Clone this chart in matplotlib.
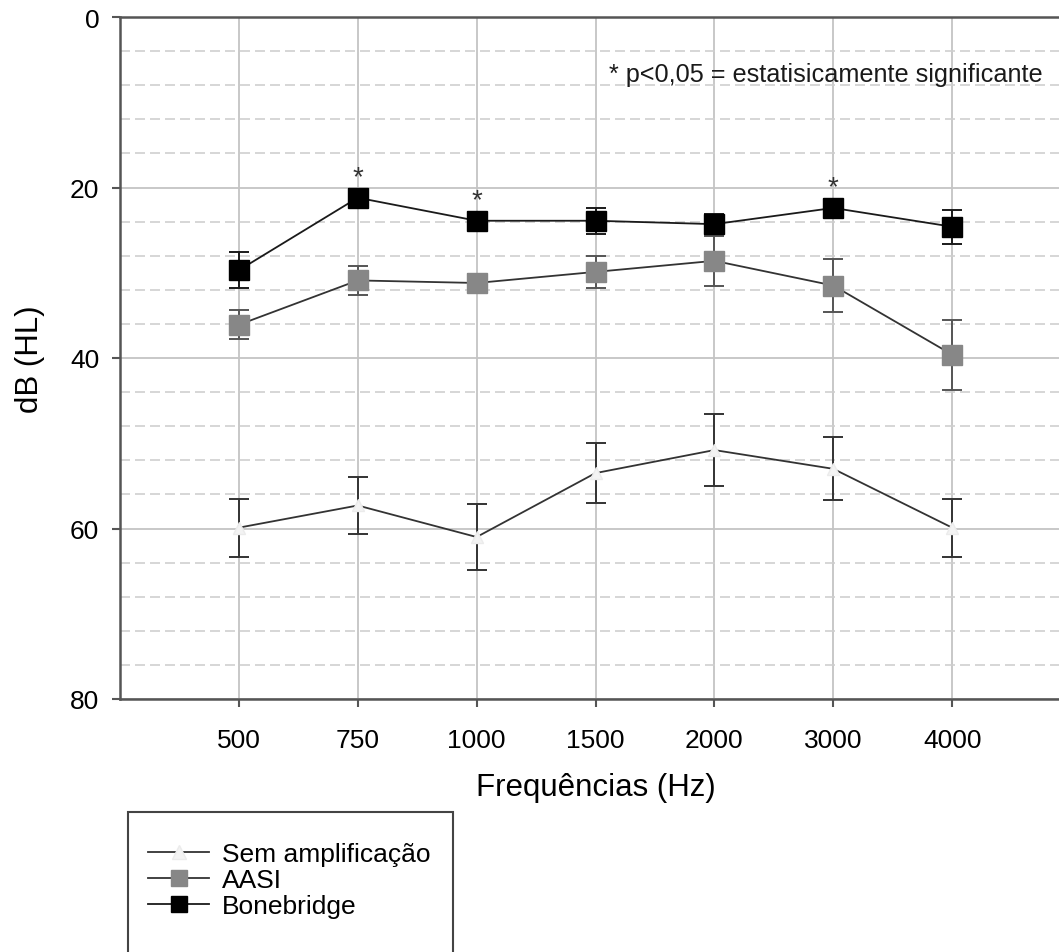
import matplotlib
matplotlib.use("Agg")
import matplotlib.pyplot as plt
from matplotlib.patches import Rectangle
from matplotlib.lines import Line2D
import numpy as np

frequencias = ["500", "750", "1000", "1500", "2000", "3000", "4000"]

sem_amp = [59.9, 57.3, 61.0, 53.5, 50.8, 53.0, 59.9]
sem_amp_err = [3.4, 3.3, 3.9, 3.5, 4.2, 3.7, 3.4]

aasi = [36.1, 30.9, 31.2, 29.9, 28.6, 31.5, 39.6]
aasi_err = [1.7, 1.7, 1.0, 1.9, 2.9, 3.1, 4.1]

bonebridge = [29.7, 21.2, 23.9, 23.9, 24.3, 22.4, 24.6]
bonebridge_err = [2.1, 1.0, 1.0, 1.5, 1.2, 1.0, 2.0]

significativo = ["750", "1000", "3000"]

plt.rcParams['font.family'] = ['Liberation Sans', 'DejaVu Sans']

fig = plt.figure(figsize=(10.59, 9.53), dpi=100)
ax = fig.add_axes([120/1059, 1 - 700/953, (1071-120)/1059, (700-18)/953])

x = np.arange(len(frequencias))

# grid
ax.set_ylim(80, 0)
ax.set_xlim(-1, 7)
ax.set_yticks([0, 20, 40, 60, 80])
ax.set_yticks(np.arange(0, 81, 4), minor=True)
ax.set_xticks(x)
ax.set_xticklabels(frequencias)
ax.grid(True, which='major', axis='y', color='#c4c4c4', lw=1.3, zorder=0)
ax.grid(True, which='minor', axis='y', color='#cfcfcf', lw=1.2, ls=(0, (6, 3)), zorder=0)
ax.grid(True, which='major', axis='x', color='#c4c4c4', lw=1.3, zorder=0)
ax.set_axisbelow(True)

ax.tick_params(axis='y', which='minor', length=0)
ax.tick_params(axis='y', which='major', direction='out', length=6, width=1.5,
               color='#555555', labelsize=19, pad=9)
ax.tick_params(axis='x', which='major', direction='out', length=6, width=1.5,
               color='#555555', labelsize=19, pad=15)

for s in ['left', 'top', 'bottom']:
    ax.spines[s].set_color('#555555')
    ax.spines[s].set_linewidth(1.8)
ax.spines['right'].set_visible(False)

# series
ax.errorbar(x, sem_amp, yerr=sem_amp_err, color='#333333', lw=1.3,
            marker='^', ms=9, mfc='#f3f3f3', mec='#ebebeb',
            ecolor='#333333', elinewidth=1.4, capsize=7, capthick=1.4, zorder=3)
ax.errorbar(x, aasi, yerr=aasi_err, color='#333333', lw=1.3,
            marker='s', ms=14, mfc='#878787', mec='#878787',
            ecolor='#555555', elinewidth=1.4, capsize=7, capthick=1.4, zorder=4)
ax.errorbar(x, bonebridge, yerr=bonebridge_err, color='#1a1a1a', lw=1.3,
            marker='s', ms=14, mfc='black', mec='black',
            ecolor='#1a1a1a', elinewidth=1.4, capsize=7, capthick=1.4, zorder=5)

for f in significativo:
    i = frequencias.index(f)
    ax.text(x[i], bonebridge[i] - 0.9, "*", ha='center', va='bottom',
            fontsize=20, color='#333333')

ax.text(3.11, 6.7, "* p<0,05 = estatisicamente significante", ha='left',
        va='center', fontsize=18.2, color='#1a1a1a')

ax.set_xlabel("Frequências (Hz)", fontsize=22.5, labelpad=14)
ax.set_ylabel("dB (HL)", fontsize=22.5, labelpad=18)

# legend (box runs past the bottom of the figure, as in the original)
fig.patches.append(Rectangle((128/1059, -0.02), (453-128)/1059, (953-813)/953 + 0.02,
                             transform=fig.transFigure, fill=False,
                             ec='#444444', lw=1.5))
handles = [
    Line2D([], [], color='#333333', lw=1.3, marker='^', ms=10,
           mfc='#f3f3f3', mec='#ebebeb'),
    Line2D([], [], color='#333333', lw=1.3, marker='s', ms=12,
           mfc='#878787', mec='#878787'),
    Line2D([], [], color='#1a1a1a', lw=1.3, marker='s', ms=12,
           mfc='black', mec='black'),
]
fig.legend(handles, ["Sem amplificação", "AASI", "Bonebridge"],
           loc='upper left', bbox_to_anchor=(135/1059, 1 - 830/953),
           frameon=False, fontsize=19, handlelength=2.3, handletextpad=0.5,
           labelspacing=0.08, borderpad=0)

fig.savefig("out.png", dpi=100)
